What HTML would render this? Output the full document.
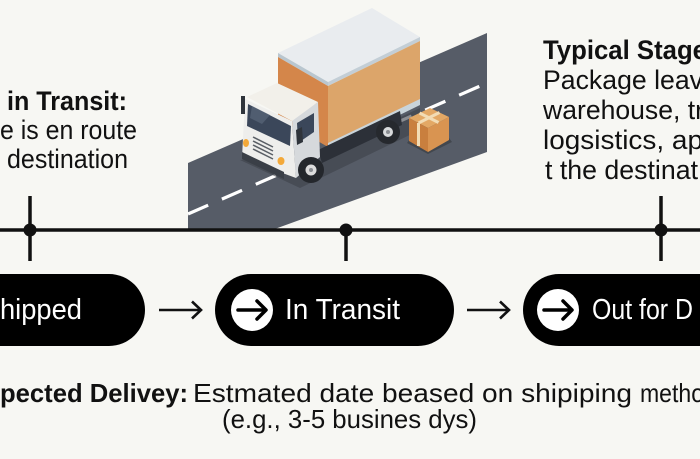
<!DOCTYPE html>
<html>
<head>
<meta charset="utf-8">
<style>
  html, body { margin:0; padding:0; background:#f7f7f3; }
  body { width:700px; height:459px; overflow:hidden; }
  svg { display:block; }
  .t { font-family:"Liberation Sans", Arial, sans-serif; fill:#111; }
  .b { font-weight:bold; }
  .w { fill:#ffffff; }
</style>
</head>
<body>
<svg width="700" height="459" viewBox="0 0 700 459" xmlns="http://www.w3.org/2000/svg">
  <rect x="0" y="0" width="700" height="459" fill="#f7f7f3"/>

  <!-- Road -->
  <polygon points="188,163 487,33 487,152 272,230 188,230" fill="#565c67"/>
  <line x1="188" y1="214" x2="487" y2="83" stroke="#ffffff" stroke-width="3.2" stroke-dasharray="22 15"/>

  <!-- Truck shadow -->
  <polygon points="240,160 300,188 420,130 420,108 330,150" fill="#3d4149" opacity="0.6"/>

  <!-- Box -->
  <polygon points="278,53 372,8 420,37 328,82" fill="#e9ecef"/>
  <polygon points="278,53 328,82 328,86 278,57" fill="#b9c6cf"/>
  <polygon points="328,82 420,37 420,41 328,86" fill="#c3ced6"/>
  <polygon points="278,57 328,86 328,147 278,118" fill="#d4864a"/>
  <polygon points="328,86 420,41 420,103 328,147" fill="#dca56a"/>
  <polygon points="328,143 420,99 420,105 328,150" fill="#c9d4da"/>

  <!-- Chassis -->
  <polygon points="318,150 400,111 402,125 322,163" fill="#2c3038"/>
  <!-- Rear wheel -->
  <circle cx="388" cy="132" r="12" fill="#26292e"/>
  <circle cx="388" cy="132" r="5" fill="#d8dadc"/>
  <circle cx="388" cy="132" r="2" fill="#8a8d92"/>

  <!-- Cab -->
  <polygon points="292,120 318,102 320,157 296,178" fill="#d6d9dc"/>
  <polygon points="245,99 292,121 296,178 242,158" fill="#eeeeec"/>
  <polygon points="247,97 277,83 318,102 292,121" fill="#f2f0ea"/>
  <polygon points="248,104 291,126 290,146 247,126" fill="#3b475a"/>
  <polygon points="252,106 270,115 262,124 250,118" fill="#5a6679" opacity="0.7"/>
  <polygon points="297,123 314,113 314,132 298,143" fill="#3b475a"/>
  <rect x="241" y="96" width="4" height="18" fill="#2f343b"/>
  <polygon points="296,130 302,127 303,142 297,145" fill="#2f343b"/>
  <ellipse cx="246" cy="143" rx="3" ry="4" fill="#f3a93a"/>
  <ellipse cx="281" cy="161" rx="3.5" ry="4" fill="#f3a93a"/>
  <g stroke="#5a5f66" stroke-width="1.5">
    <line x1="253" y1="137" x2="273" y2="147"/>
    <line x1="253" y1="141" x2="273" y2="151"/>
    <line x1="253" y1="145" x2="273" y2="155"/>
    <line x1="253" y1="149" x2="273" y2="159"/>
  </g>
  <polygon points="242,152 284,172 284,179 242,159" fill="#3a3f47"/>
  <!-- Front wheel -->
  <circle cx="311" cy="170" r="13" fill="#24272c"/>
  <circle cx="311" cy="170" r="5.5" fill="#dcdcdc"/>
  <circle cx="311" cy="170" r="2" fill="#8a8d92"/>

  <!-- Package -->
  <polygon points="407,143 428,154 452,142 449,138 428,150 409,140" fill="#3a3e45" opacity="0.7"/>
  <polygon points="409,118 430,108 449,117 428,128" fill="#e3a865"/>
  <polygon points="409,118 428,128 428,152 409,141" fill="#c97f3e"/>
  <polygon points="428,128 449,117 449,140 428,152" fill="#d99451"/>
  <g stroke="#f2dcb5" stroke-width="3">
    <line x1="419.5" y1="113" x2="438.5" y2="122.5"/>
    <line x1="418.5" y1="123" x2="439.5" y2="112.5"/>
    <line x1="418.5" y1="123" x2="418.5" y2="146"/>
  </g>

  <!-- Timeline -->
  <line x1="0" y1="230" x2="700" y2="230" stroke="#111" stroke-width="3.5"/>
  <g stroke="#111" stroke-width="3.5">
    <line x1="30" y1="196" x2="30" y2="261"/>
    <line x1="346" y1="230" x2="346" y2="261"/>
    <line x1="661" y1="196" x2="661" y2="261"/>
  </g>
  <circle cx="30" cy="230" r="6.5" fill="#111"/>
  <circle cx="346" cy="230" r="6.5" fill="#111"/>
  <circle cx="661" cy="230" r="6.5" fill="#111"/>

  <!-- Pills -->
  <rect x="-100" y="274" width="245" height="72" rx="36" fill="#000"/>
  <rect x="215" y="274" width="239" height="72" rx="36" fill="#000"/>
  <rect x="523" y="274" width="300" height="72" rx="36" fill="#000"/>

  <circle cx="252" cy="310" r="21" fill="#fff"/>
  <circle cx="558" cy="310" r="21" fill="#fff"/>
  <g stroke="#000" stroke-width="3.5" fill="none" stroke-linecap="round" stroke-linejoin="round">
    <line x1="238" y1="310" x2="265" y2="310"/>
    <polyline points="257,301 266,310 257,319"/>
    <line x1="544" y1="310" x2="571" y2="310"/>
    <polyline points="563,301 572,310 563,319"/>
  </g>

  <!-- Between arrows -->
  <g stroke="#111" stroke-width="2.6" fill="none" stroke-linejoin="miter">
    <line x1="159" y1="310" x2="201" y2="310"/>
    <polyline points="192,301.5 201,310 192,318.5"/>
    <line x1="467" y1="310" x2="509" y2="310"/>
    <polyline points="500,301.5 509,310 500,318.5"/>
  </g>

  <text class="t w" x="0" y="319" font-size="29" textLength="82" lengthAdjust="spacingAndGlyphs">hipped</text>
  <text class="t w" x="285" y="319" font-size="29" textLength="115" lengthAdjust="spacingAndGlyphs">In Transit</text>
  <text class="t w" x="592" y="319" font-size="29" textLength="101" lengthAdjust="spacingAndGlyphs">Out for D</text>

  <!-- Top left text -->
  <text class="t b" x="7" y="110" font-size="27" textLength="120" lengthAdjust="spacingAndGlyphs">in Transit:</text>
  <text class="t" x="0" y="139" font-size="27" textLength="137" lengthAdjust="spacingAndGlyphs">e is en route</text>
  <text class="t" x="7" y="168" font-size="27" textLength="121" lengthAdjust="spacingAndGlyphs">destination</text>

  <!-- Top right text -->
  <text class="t b" x="543" y="59" font-size="27" textLength="164" lengthAdjust="spacingAndGlyphs">Typical Stage</text>
  <text class="t" x="543" y="89" font-size="27" textLength="160" lengthAdjust="spacingAndGlyphs">Package leav</text>
  <text class="t" x="543" y="119" font-size="27" textLength="161" lengthAdjust="spacingAndGlyphs">warehouse, tr</text>
  <text class="t" x="543" y="149" font-size="27" textLength="160" lengthAdjust="spacingAndGlyphs">logsistics, ap</text>
  <text class="t" x="545" y="179" font-size="27" textLength="153" lengthAdjust="spacingAndGlyphs">t the destinat</text>

  <!-- Bottom text -->
  <text class="t b" x="0" y="402" font-size="26" textLength="188" lengthAdjust="spacingAndGlyphs">pected Delivey:</text>
  <text class="t" x="193" y="402" font-size="26" textLength="439" lengthAdjust="spacingAndGlyphs">Estmated date beased on shipiping</text>
  <text class="t" x="640" y="402" font-size="26" textLength="64" lengthAdjust="spacingAndGlyphs">metho</text>
  <text class="t" x="222" y="428" font-size="26" textLength="255" lengthAdjust="spacingAndGlyphs">(e.g., 3-5 busines dys)</text>
</svg>
</body>
</html>
